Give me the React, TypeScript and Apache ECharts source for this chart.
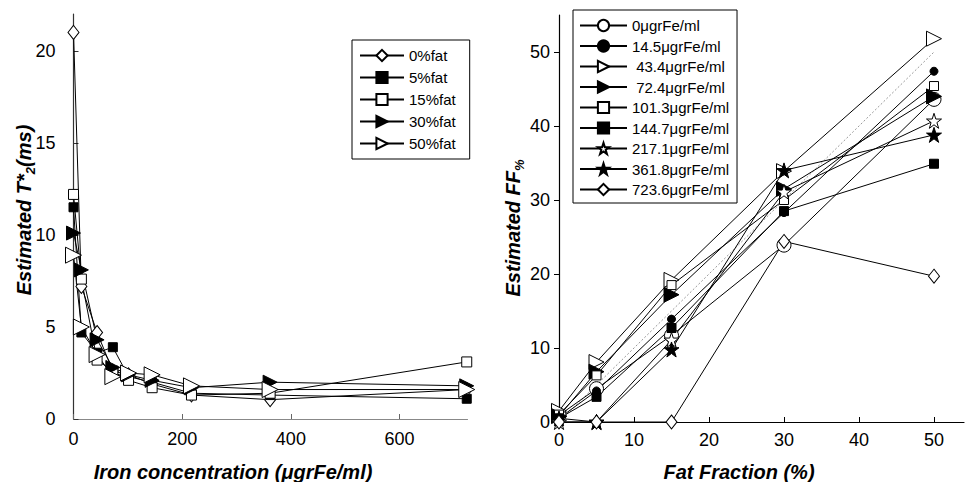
import React, { useEffect, useRef } from 'react';
import * as echarts from 'echarts';

// ---------- data ----------
const ironConc = [0, 14.5, 43.4, 72.4, 101.3, 144.7, 217.1, 361.8, 723.6];
const fatNames = ['0%fat', '5%fat', '15%fat', '30%fat', '50%fat'];
const t2Fat0 = [21.0, 7.2, 4.7, 2.6, 2.4, 1.9, 1.3, 1.05, 1.6];
const t2Fat5 = [11.5, 4.7, 3.6, 3.9, 2.3, 2.0, 1.4, 1.3, 1.1];
const t2Fat15 = [12.2, 7.6, 3.2, 2.6, 2.1, 1.7, 1.3, 1.4, 3.1];
const t2Fat30 = [10.1, 8.1, 4.3, 2.8, 2.4, 2.1, 1.7, 2.0, 1.8];
const t2Fat50 = [8.9, 5.0, 3.5, 2.3, 2.5, 2.4, 1.8, 1.6, 1.6];
const t2Values = [t2Fat0, t2Fat5, t2Fat15, t2Fat30, t2Fat50];

const fatFractions = [0, 5, 15, 30, 50];
const ironNames = [
  '0\u03BCgrFe/ml',
  '14.5\u03BCgrFe/ml',
  ' 43.4\u03BCgrFe/ml',
  ' 72.4\u03BCgrFe/ml',
  '101.3\u03BCgrFe/ml',
  '144.7\u03BCgrFe/ml',
  '217.1\u03BCgrFe/ml',
  '361.8\u03BCgrFe/ml',
  '723.6\u03BCgrFe/ml',
];
const ffIron0 = [0.9, 4.5, 11.7, 23.9, 43.6];
const ffIron14 = [0.5, 4.2, 13.9, 28.3, 47.4];
const ffIron43 = [1.5, 8.1, 19.2, 33.9, 51.8];
const ffIron72 = [0.8, 6.8, 17.2, 31.5, 44.0];
const ffIron101 = [1.0, 6.3, 18.5, 30.0, 45.4];
const ffIron144 = [0.5, 3.4, 12.7, 28.5, 34.9];
const ffIron217 = [0, 0, 11.1, 31.1, 40.7];
const ffIron361 = [0.5, 0, 9.8, 34.0, 38.8];
const ffIron723 = [0, 0, 0, 24.4, 19.7];
const ffValues = [ffIron0, ffIron14, ffIron43, ffIron72, ffIron101, ffIron144, ffIron217, ffIron361, ffIron723];
const identityLine = [0, 50];

const t2Ticks = [0, 5, 10, 15, 20];
const ironTicks = [0, 200, 400, 600];
const ffTicks = [0, 10, 20, 30, 40, 50];

// ---------- styles ----------
const FONT = '"Liberation Sans", Arial, Helvetica, sans-serif';
const STAR = 'path://M50,0L61.8,35.3L99,35.3L69,57.1L80.4,92.6L50,70.8L19.6,92.6L31,57.1L1,35.3L38.2,35.3Z';
const openItem = { color: '#fff', borderColor: '#000', borderWidth: 1 };
const fillItem = { color: '#000', borderColor: '#000', borderWidth: 1 };

type Mk = { symbol: string; size: number | number[]; rotate?: number; open: boolean };
const leftMarkers: Mk[] = [
  { symbol: 'diamond', size: [11, 14], open: true },
  { symbol: 'rect', size: 9, open: false },
  { symbol: 'rect', size: 10, open: true },
  { symbol: 'triangle', size: 14, rotate: -90, open: false },
  { symbol: 'triangle', size: 16, rotate: -90, open: true },
];
const rightMarkers: Mk[] = [
  { symbol: 'circle', size: 14, open: true },
  { symbol: 'circle', size: 8, open: false },
  { symbol: 'triangle', size: 15, rotate: -90, open: true },
  { symbol: 'triangle', size: 15, rotate: -90, open: false },
  { symbol: 'rect', size: 9, open: true },
  { symbol: 'rect', size: 9, open: false },
  { symbol: STAR, size: 15, open: true },
  { symbol: STAR, size: 15, open: false },
  { symbol: 'diamond', size: [11, 14], open: true },
];

function App() {
  const ref = useRef<HTMLDivElement>(null);
  useEffect(() => {
    if (!ref.current) return;
    const chart = echarts.init(ref.current, null, { renderer: 'svg' });

    const tickLabel = { fontSize: 18, fontFamily: FONT, color: '#000' };
    const titleMain = { fontSize: 20, fontWeight: 'bold', fontStyle: 'italic', fontFamily: FONT, fill: '#000', lineHeight: 26 };
    const titleSub = { fontSize: 13, fontWeight: 'bold', fontStyle: 'italic', fontFamily: FONT, fill: '#000', lineHeight: 13, verticalAlign: 'bottom' };

    const leftSeries = fatNames.map((name, i) => ({
      name,
      type: 'line',
      xAxisIndex: 0,
      yAxisIndex: 0,
      data: ironConc.map((x, j) => [x, t2Values[i][j]]),
      symbol: leftMarkers[i].symbol,
      symbolSize: leftMarkers[i].size,
      symbolRotate: leftMarkers[i].rotate || 0,
      showAllSymbol: true,
      lineStyle: { color: '#000', width: 1 },
      itemStyle: leftMarkers[i].open ? openItem : fillItem,
      emphasis: { disabled: true },
    }));

    const rightSeries = ironNames.map((name, i) => ({
      name,
      type: 'line',
      xAxisIndex: 1,
      yAxisIndex: 1,
      data: fatFractions.map((x, j) => [x, ffValues[i][j]]),
      symbol: rightMarkers[i].symbol,
      symbolSize: rightMarkers[i].size,
      symbolRotate: rightMarkers[i].rotate || 0,
      showAllSymbol: true,
      lineStyle: { color: '#000', width: 1 },
      itemStyle: rightMarkers[i].open ? openItem : fillItem,
      emphasis: { disabled: true },
    }));

    const identitySeries = {
      name: 'identity',
      type: 'line',
      xAxisIndex: 1,
      yAxisIndex: 1,
      data: identityLine.map((v) => [v, v]),
      symbol: 'none',
      lineStyle: { color: '#999', width: 1, type: [2, 2] },
      z: 1,
      silent: true,
    };

    chart.setOption({
      animation: false,
      backgroundColor: '#fff',
      grid: [
        { left: 73.5, top: 14, width: 394, height: 405 },
        { left: 559, top: 15, width: 405, height: 407 },
      ],
      xAxis: [
        {
          gridIndex: 0,
          type: 'value',
          min: 0,
          max: 725,
          splitLine: { show: false },
          axisLine: { lineStyle: { color: '#888', width: 1.2 } },
          axisTick: { inside: true, length: 5, customValues: ironTicks, lineStyle: { color: '#666' } },
          axisLabel: { customValues: ironTicks, margin: 11, ...tickLabel },
        },
        {
          gridIndex: 1,
          type: 'value',
          min: 0,
          max: 54,
          splitLine: { show: false },
          axisLine: { lineStyle: { color: '#000', width: 1.2 } },
          axisTick: { inside: true, length: 5, customValues: ffTicks, lineStyle: { color: '#000' } },
          axisLabel: { customValues: ffTicks, margin: 9, ...tickLabel },
        },
      ],
      yAxis: [
        {
          gridIndex: 0,
          type: 'value',
          min: 0,
          max: 22,
          splitLine: { show: false },
          axisLine: { show: true, lineStyle: { color: '#333', width: 1.2 } },
          axisTick: { show: true, inside: true, length: 5, customValues: t2Ticks, lineStyle: { color: '#333' } },
          axisLabel: { customValues: t2Ticks, margin: 18, ...tickLabel },
        },
        {
          gridIndex: 1,
          type: 'value',
          min: 0,
          max: 55,
          splitLine: { show: false },
          axisLine: { show: true, lineStyle: { color: '#000', width: 1.2 } },
          axisTick: { show: true, inside: false, length: 5, customValues: ffTicks, lineStyle: { color: '#000' } },
          axisLabel: { customValues: ffTicks, margin: 9, ...tickLabel },
        },
      ],
      legend: [
        {
          data: fatNames,
          orient: 'vertical',
          left: 352,
          top: 40,
          padding: [8, 14, 8, 7],
          itemGap: 7,
          itemWidth: 44,
          itemHeight: 14,
          borderColor: '#000',
          borderWidth: 1,
          selectedMode: false,
          textStyle: { fontSize: 15, fontFamily: FONT, color: '#000' },
        },
        {
          data: ironNames,
          orient: 'vertical',
          left: 573,
          top: 10,
          padding: [8, 8, 6, 6],
          itemGap: 5.5,
          itemWidth: 47,
          itemHeight: 14,
          borderColor: '#000',
          borderWidth: 1,
          selectedMode: false,
          textStyle: { fontSize: 15, fontFamily: FONT, color: '#000' },
        },
      ],
      graphic: [
        {
          type: 'text',
          x: 233,
          y: 472,
          style: {
            text: 'Iron concentration (\u03BCgrFe/ml)',
            fontSize: 20,
            fontWeight: 'bold',
            fontStyle: 'italic',
            fontFamily: FONT,
            fill: '#000',
            align: 'center',
            verticalAlign: 'middle',
          },
        },
        {
          type: 'text',
          x: 739,
          y: 472,
          style: {
            text: 'Fat Fraction (%)',
            fontSize: 20,
            fontWeight: 'bold',
            fontStyle: 'italic',
            fontFamily: FONT,
            fill: '#000',
            align: 'center',
            verticalAlign: 'middle',
          },
        },
        {
          type: 'text',
          x: 24,
          y: 210,
          rotation: Math.PI / 2,
          style: {
            text: '{m|Estimated T*}{s|2}{m|(ms)}',
            rich: { m: titleMain, s: titleSub },
            align: 'center',
            verticalAlign: 'middle',
          },
        },
        {
          type: 'text',
          x: 513,
          y: 228,
          rotation: Math.PI / 2,
          style: {
            text: '{m|Estimated FF}{s|%}',
            rich: { m: titleMain, s: titleSub },
            align: 'center',
            verticalAlign: 'middle',
          },
        },
      ],
      series: [identitySeries, ...leftSeries, ...rightSeries],
    } as any);

    return () => chart.dispose();
  }, []);

  return (
    <div
      ref={ref}
      style={{ position: 'fixed', left: 0, top: 0, width: 965, height: 482, background: '#fff' }}
    />
  );
}

export default App;
